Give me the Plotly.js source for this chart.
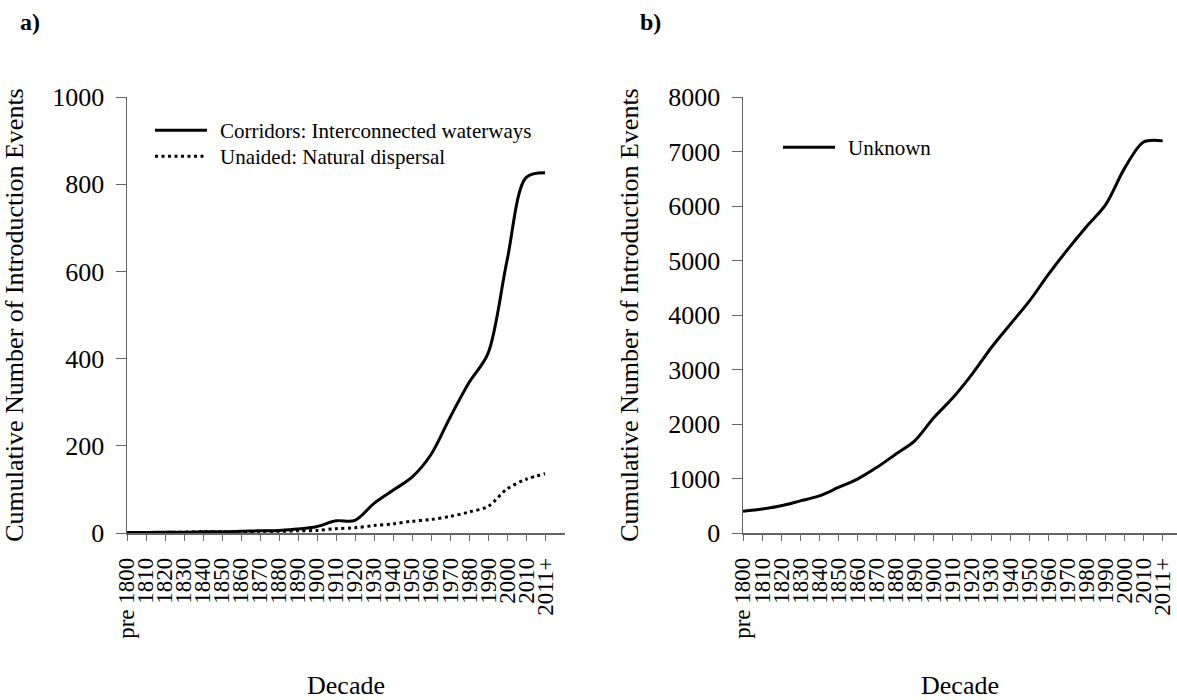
<!DOCTYPE html>
<html>
<head>
<meta charset="utf-8">
<script src="https://cdn.plot.ly/plotly-3.0.1.min.js"></script>
<style>html,body{margin:0;padding:0;background:#fff;}#chart{width:1177px;height:700px;}</style>
</head>
<body>
<div id="chart"></div>
<script>
var decades = ["pre 1800","1810","1820","1830","1840","1850","1860","1870","1880","1890","1900","1910","1920","1930","1940","1950","1960","1970","1980","1990","2000","2010","2011+"];
var corridors = [1,1,2,2,3,3,4,5,6,9,15,28,29,68,98,128,180,265,345,412,625,815,826];
var natural = [0,0,1,2,3,3,3,4,4,5,6,10,12,17,21,27,31,38,48,61,101,123,136];
var unknown = [400,440,500,590,680,835,990,1200,1445,1690,2115,2480,2910,3395,3825,4250,4740,5195,5620,6020,6690,7175,7195];

var FONT = '"Liberation Serif", "Times New Roman", Times, serif';

var traces = [
  {x: decades, y: corridors, name: "Corridors: Interconnected waterways", type: "scatter", mode: "lines",
   line: {color: "#000", width: 3, shape: "spline", smoothing: 0.9}, xaxis: "x", yaxis: "y", legend: "legend"},
  {x: decades, y: natural, name: "Unaided: Natural dispersal", type: "scatter", mode: "lines",
   line: {color: "#000", width: 3, dash: "3px,3.5px", shape: "spline", smoothing: 0.9}, xaxis: "x", yaxis: "y", legend: "legend3"},
  {x: decades, y: unknown, name: "Unknown", type: "scatter", mode: "lines",
   line: {color: "#000", width: 3, shape: "spline", smoothing: 0.9}, xaxis: "x2", yaxis: "y2", legend: "legend2"}
];

function xax(domain, range, anchor) {
  return {domain: domain, anchor: anchor, type: "category", range: range, automargin: false,
    tickmode: "array", tickvals: decades, ticktext: decades,
    showline: true, linecolor: "#666", linewidth: 1.5, ticks: "outside", ticklen: 6, tickcolor: "#666",
    tickangle: -90, ticklabelstandoff: 8, showgrid: false, zeroline: false,
    tickfont: {family: FONT, size: 23, color: "#000"},
    title: {text: "Decade", font: {family: FONT, size: 26, color: "#000"}, standoff: 38}};
}
function yax(domain, range, dtick, anchor) {
  return {domain: domain, anchor: anchor, range: range, dtick: dtick, automargin: false,
    showline: true, linecolor: "#666", linewidth: 1.5, ticks: "outside", ticklen: 10, tickcolor: "#666",
    ticklabelstandoff: 6, showgrid: false, zeroline: false,
    tickfont: {family: FONT, size: 26, color: "#000"},
    title: {text: "Cumulative Number of Introduction Events", font: {family: FONT, size: 26, color: "#000"}, standoff: 22}};
}

function leg(xpx, rowpx) {
  return {x: xpx/1177, y: 1 - (rowpx - 20)/700, xanchor: "left", yanchor: "top", bgcolor: "rgba(0,0,0,0)",
    itemwidth: 60, font: {family: FONT, size: 21, color: "#000"}};
}

var layout = {
  width: 1177, height: 700,
  margin: {l: 0, r: 0, t: 0, b: 0},
  paper_bgcolor: "#fff", plot_bgcolor: "#fff",
  font: {family: FONT, color: "#000"},
  showlegend: true,
  xaxis: xax([127/1177, 565/1177], [0, 23.05], "y"),
  yaxis: yax([1 - 533/700, 1 - 97/700], [0, 1000], 200, "x"),
  xaxis2: xax([743/1177, 1], [0, 22.75], "y2"),
  yaxis2: yax([1 - 533/700, 1 - 97/700], [0, 8000], 1000, "x2"),
  legend: leg(150, 130),
  legend3: leg(150, 156),
  legend2: leg(778, 147),
  annotations: [
    {text: "<b>a)</b>", xref: "paper", yref: "paper", x: 18/1177, y: 1 - 22/700, xanchor: "left", yanchor: "middle",
     showarrow: false, font: {family: FONT, size: 24, color: "#000"}},
    {text: "<b>b)</b>", xref: "paper", yref: "paper", x: 638/1177, y: 1 - 22/700, xanchor: "left", yanchor: "middle",
     showarrow: false, font: {family: FONT, size: 24, color: "#000"}}
  ]
};

Plotly.newPlot("chart", traces, layout, {displayModeBar: false, staticPlot: true}).then(function (gd) {
  // lengthen the legend line samples to match the reference
  gd.querySelectorAll(".legendlines path").forEach(function (p) { p.setAttribute("d", "M5,0h52"); });
});
</script>
</body>
</html>
